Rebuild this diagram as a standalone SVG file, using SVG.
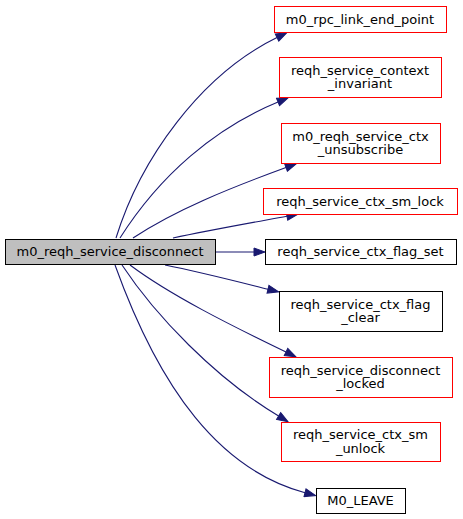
<svg xmlns="http://www.w3.org/2000/svg" width="463" height="519" viewBox="0 0 463 519">
<style>
text{font-family:"DejaVu Sans",sans-serif;font-size:13px;text-anchor:middle;fill:#000}
.n rect{fill:#fff;stroke:#000;stroke-width:1}
.r rect{stroke:#ff0000}
.main rect{fill:#bfbfbf}
.e path{fill:none;stroke:#191970;stroke-width:1.1;marker-end:url(#ah)}
</style>
<defs>
<marker id="ah" markerUnits="userSpaceOnUse" markerWidth="13" markerHeight="10" refX="0" refY="4" viewBox="-1 -1 13 10" orient="auto">
<path d="M0,0 L11,4 L0,8 z" fill="#191970" stroke="#191970" stroke-width="1"/>
</marker>
</defs>
<g id="edges" class="e">
<path d="M116,238 C140,160 200,75 277,37.5"/>
<path d="M120,238 C160,175 215,128 278,102"/>
<path d="M133,238 C175,210 230,188 286,167.5"/>
<path d="M173,238 C210,230 250,223 287,216.2"/>
<path d="M215,252 L254,252"/>
<path d="M165,265 C200,272 235,281 268,289.2"/>
<path d="M130,265 C170,295 230,325 286,352"/>
<path d="M122,265 C155,315 215,378 278.6,416"/>
<path d="M115,265 C160,390 220,470 305,492.7"/>
</g>
<g id="main" class="n main"><rect x="5.5" y="239.5" width="210" height="25"/><text x="110" y="256">m0_reqh_service_disconnect</text></g>
<g id="n1" class="n r"><rect x="274.5" y="6.5" width="172" height="26"/><text x="360" y="23.5">m0_rpc_link_end_point</text></g>
<g id="n2" class="n r"><rect x="279.5" y="57.5" width="162" height="40"/><text x="360" y="74.5">reqh_service_context</text><text x="360" y="88">_invariant</text></g>
<g id="n3" class="n r"><rect x="281.5" y="123.5" width="159" height="40"/><text x="360.5" y="140.5">m0_reqh_service_ctx</text><text x="360.5" y="154">_unsubscribe</text></g>
<g id="n4" class="n r"><rect x="263.5" y="188.5" width="194" height="26"/><text x="360" y="205.5">reqh_service_ctx_sm_lock</text></g>
<g id="n5" class="n"><rect x="265.5" y="239.5" width="191" height="25"/><text x="360.5" y="256">reqh_service_ctx_flag_set</text></g>
<g id="n6" class="n"><rect x="279.5" y="291.5" width="163" height="40"/><text x="360.5" y="308.5">reqh_service_ctx_flag</text><text x="360.5" y="322">_clear</text></g>
<g id="n7" class="n r"><rect x="269.5" y="357.5" width="183" height="40"/><text x="360.5" y="374.5">reqh_service_disconnect</text><text x="360.5" y="388">_locked</text></g>
<g id="n8" class="n r"><rect x="281.5" y="422.5" width="159" height="39"/><text x="360.5" y="439">reqh_service_ctx_sm</text><text x="360.5" y="452.5">_unlock</text></g>
<g id="n9" class="n"><rect x="316.5" y="488.5" width="89" height="25"/><text x="360.5" y="505">M0_LEAVE</text></g>
</svg>
